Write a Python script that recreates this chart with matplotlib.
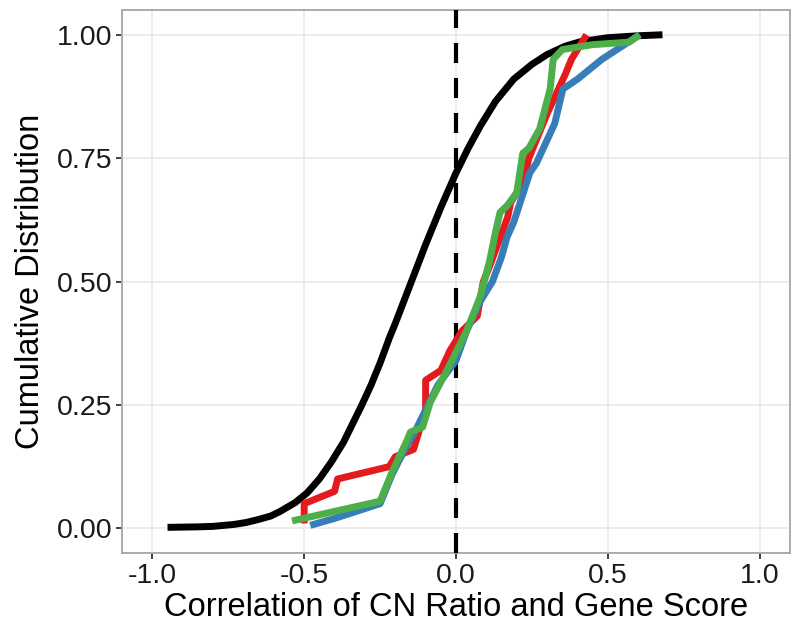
import numpy as np
import matplotlib
matplotlib.use("Agg")
import matplotlib.pyplot as plt

plt.rcParams['font.family'] = ['Liberation Sans', 'DejaVu Sans']

## curves (x = correlation, y = cumulative fraction)
black_x = [-0.95, -0.85, -0.80, -0.73, -0.69, -0.65, -0.61, -0.58, -0.53, -0.49, -0.45, -0.41,
           -0.37, -0.35, -0.31, -0.28, -0.25, -0.22, -0.20, -0.15, -0.10, -0.05, 0.0,
           0.04, 0.08, 0.13, 0.19, 0.25, 0.30, 0.36, 0.41, 0.50, 0.60, 0.68]
black_y = [0.002, 0.003, 0.004, 0.008, 0.012, 0.018, 0.025, 0.034, 0.052, 0.072, 0.10, 0.135,
           0.175, 0.20, 0.25, 0.29, 0.335, 0.385, 0.415, 0.495, 0.575, 0.65, 0.72,
           0.77, 0.815, 0.865, 0.91, 0.94, 0.96, 0.977, 0.986, 0.994, 0.998, 1.0]

red_x = [-0.50, -0.50, -0.40, -0.39, -0.22, -0.20, -0.14, -0.12, -0.10, -0.10, -0.05, -0.02,
         0.02, 0.07, 0.09, 0.11, 0.14, 0.17, 0.18, 0.22, 0.24, 0.26, 0.30, 0.33, 0.36, 0.38,
         0.41, 0.43]
red_y = [0.01, 0.05, 0.075, 0.10, 0.125, 0.145, 0.16, 0.20, 0.23, 0.30, 0.32, 0.36,
         0.40, 0.43, 0.50, 0.53, 0.58, 0.63, 0.66, 0.70, 0.75, 0.78, 0.84, 0.88, 0.92, 0.95,
         0.98, 1.00]

blue_x = [-0.48, -0.40, -0.25, -0.21, -0.16, -0.14, -0.10, -0.06, 0.0, 0.035, 0.08, 0.12,
          0.15, 0.168, 0.19, 0.243, 0.265, 0.325, 0.352, 0.40, 0.48, 0.58, 0.605]
blue_y = [0.006, 0.02, 0.05, 0.11, 0.17, 0.19, 0.24, 0.29, 0.34, 0.40, 0.46, 0.50,
          0.55, 0.59, 0.62, 0.72, 0.74, 0.82, 0.89, 0.91, 0.95, 0.99, 1.0]

green_x = [-0.54, -0.25, -0.21, -0.16, -0.15, -0.11, -0.085, -0.03, 0.035, 0.08, 0.11, 0.13,
           0.145, 0.17, 0.20, 0.22, 0.24, 0.276, 0.31, 0.32, 0.35, 0.45, 0.57, 0.605]
green_y = [0.015, 0.055, 0.115, 0.18, 0.195, 0.205, 0.255, 0.32, 0.40, 0.47, 0.54, 0.60,
           0.64, 0.655, 0.68, 0.76, 0.77, 0.81, 0.89, 0.95, 0.97, 0.98, 0.985, 1.0]

x_ticks = [-1.0, -0.5, 0.0, 0.5, 1.0]
y_ticks = [0.0, 0.25, 0.5, 0.75, 1.0]

fig = plt.figure(figsize=(8, 6.38), dpi=100)
ax = fig.add_axes([0.1525, 0.1332, 0.835, 0.851])

lw = 5
ax.plot(black_x, black_y, color='black', lw=lw, solid_capstyle='butt', solid_joinstyle='round', zorder=3)
ax.axvline(0, color='black', lw=3, dashes=(4.8, 3.6), zorder=3.5)
ax.plot(red_x, red_y, color='#E41A1C', lw=lw, solid_capstyle='butt', zorder=4)
ax.plot(blue_x, blue_y, color='#377EB8', lw=lw, solid_capstyle='butt', zorder=4.5)
ax.plot(green_x, green_y, color='#4DAF4A', lw=lw, solid_capstyle='butt', zorder=5)

ax.set_xlim(-1.1, 1.1)
ax.set_ylim(-0.05, 1.05)
ax.set_xticks(x_ticks)
ax.set_xticklabels(['-1.0', '-0.5', '0.0', '0.5', '1.0'])
ax.set_yticks(y_ticks)
ax.set_yticklabels(['0.00', '0.25', '0.50', '0.75', '1.00'])
ax.grid(True, color='#ebebeb', lw=1.3, zorder=0)
ax.set_axisbelow(True)
for s in ax.spines.values():
    s.set_color('#a6a6a6')
    s.set_linewidth(1.3)
ax.tick_params(length=4, width=1.3, color='#333333', labelsize=20.5, labelcolor='#1a1a1a', pad=3)

ax.set_xlabel('Correlation of CN Ratio and Gene Score', fontsize=23.5, labelpad=2)
ax.set_ylabel('Cumulative Distribution', fontsize=23.5, labelpad=8)

fig.savefig('out.png', dpi=100)
